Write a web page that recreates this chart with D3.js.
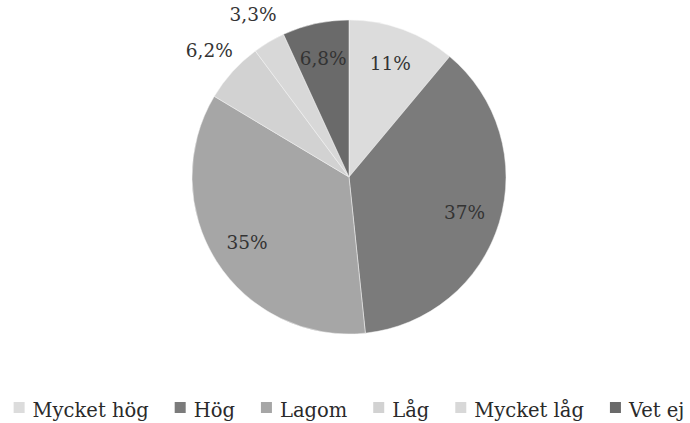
<!DOCTYPE html>
<html>
<head>
<meta charset="utf-8">
<script src="https://cdn.jsdelivr.net/npm/d3@7/dist/d3.min.js"></script>
<style>
	html, body { margin: 0; padding: 0; background: #fff; }
	svg { display: block; font-family: "DejaVu Serif", serif; }
	.slice-label { font-size: 18.5px; fill: #333; }
	.legend text { font-size: 19.5px; fill: #2a2a2a; }
</style>
</head>
<body>
<svg id="chart" width="690" height="423"></svg>
<script>
var categories = ['Mycket hög', 'Hög', 'Lagom', 'Låg', 'Mycket låg', 'Vet ej'],
	values = [11, 37, 35, 6.2, 3.3, 6.8],
	valueLabels = ['11%', '37%', '35%', '6,2%', '3,3%', '6,8%'],
	colors = ['#dcdcdc', '#7b7b7b', '#a6a6a6', '#d2d2d2', '#d8d8d8', '#6a6a6a'],
	outsideLabels = ['Låg', 'Mycket låg'];

var svg = d3.select('#chart'),
	cx = 349,
	cy = 177,
	radius = 157;

var pie = d3.pie().sort(null).value(function(d) { return d.value; });

var data = categories.map(function(c, i) {
	return { name: c, value: values[i], label: valueLabels[i], color: colors[i] };
});

var arc = d3.arc().innerRadius(0).outerRadius(radius),
	inArc = d3.arc().innerRadius(radius * 0.77).outerRadius(radius * 0.77),
	outArc = d3.arc().innerRadius(radius * 1.2).outerRadius(radius * 1.2);

var g = svg.append('g').attr('transform', 'translate(' + cx + ',' + cy + ')');

g.selectAll('path')
	.data(pie(data))
	.enter().append('path')
	.attr('d', arc)
	.attr('fill', function(d) { return d.data.color; })
	.attr('stroke', '#f4f4f4')
	.attr('stroke-width', 0.5);

g.selectAll('text')
	.data(pie(data))
	.enter().append('text')
	.attr('class', 'slice-label')
	.attr('transform', function(d) {
		var a = outsideLabels.indexOf(d.data.name) > -1 ? outArc : inArc;
		return 'translate(' + a.centroid(d) + ')';
	})
	.attr('text-anchor', 'middle')
	.attr('dy', '0.35em')
	.text(function(d) { return d.data.label; });

// legend, centered under the pie
var legend = svg.append('g').attr('class', 'legend'),
	sw = 11,
	textGap = 8,
	itemGap = 26,
	x = 0;

var items = legend.selectAll('g')
	.data(data)
	.enter().append('g');

items.append('rect')
	.attr('width', sw)
	.attr('height', sw)
	.attr('y', -sw + 1)
	.attr('fill', function(d) { return d.color; });

items.append('text')
	.attr('x', sw + textGap)
	.attr('y', 5)
	.text(function(d) { return d.name; });

items.each(function() {
	var w = sw + textGap + d3.select(this).select('text').node().getComputedTextLength();
	d3.select(this).attr('transform', 'translate(' + x + ',0)');
	x += w + itemGap;
});
x -= itemGap;

legend.attr('transform', 'translate(' + (cx - x / 2) + ',412)');
</script>
</body>
</html>
